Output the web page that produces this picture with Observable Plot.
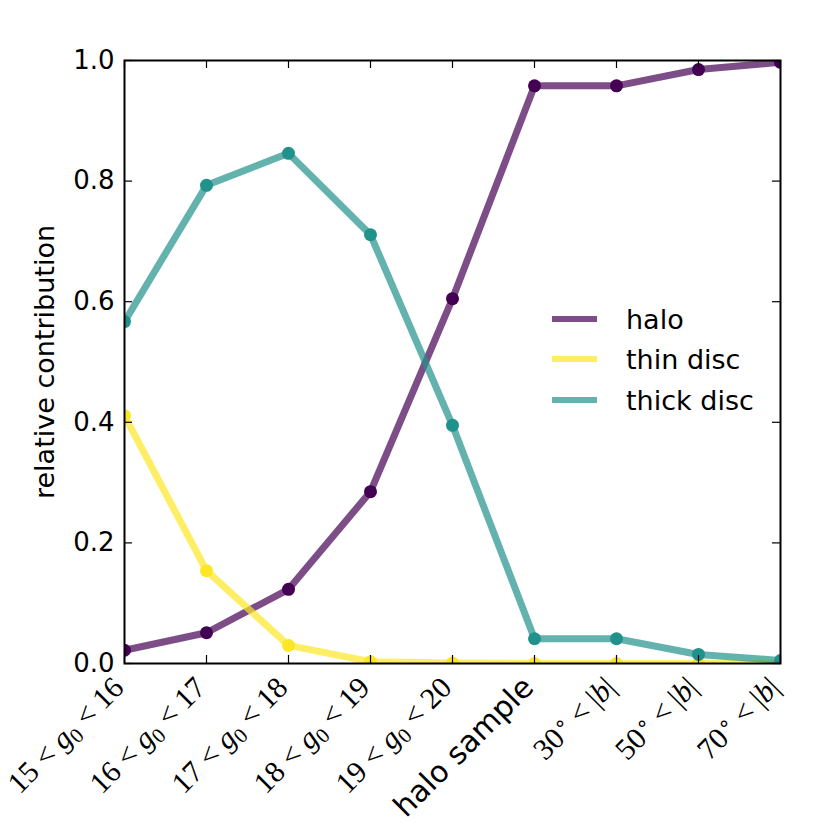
<!DOCTYPE html>
<html><head><meta charset="utf-8">
<script src="https://cdn.jsdelivr.net/npm/d3@7"></script>
<script src="https://cdn.jsdelivr.net/npm/@observablehq/plot@0.6"></script>
<style>
body{margin:0;background:#fff}
#wrap{position:relative;width:830px;height:830px;font-family:"DejaVu Sans",sans-serif}
.leg{position:absolute;left:552px;display:flex;align-items:center;font-size:27px;color:#000}
.leg span.sw{display:inline-block;width:45px;height:6px;margin-right:29px}
</style>
</head><body><div id="wrap"></div>
<script>
const categories = ["15<g0<16","16<g0<17","17<g0<18","18<g0<19","19<g0<20","halo sample","30<|b|","50<|b|","70<|b|"];
const halo      = [0.022, 0.051, 0.123, 0.285, 0.605, 0.958, 0.958, 0.985, 0.997];
const thinDisc  = [0.411, 0.154, 0.030, 0.003, 0.001, 0.000, 0.000, 0.000, 0.000];
const thickDisc = [0.567, 0.793, 0.846, 0.711, 0.395, 0.041, 0.041, 0.015, 0.005];
const yTicks = [0, 0.2, 0.4, 0.6, 0.8, 1.0];
const seriesNames = ["halo", "thin disc", "thick disc"];
const seriesColors = ["#440154", "#fde725", "#21918c"];
const seriesValues = [halo, thinDisc, thickDisc];

const rows = [];
seriesNames.forEach((s, i) => categories.forEach((c, j) => rows.push({series: s, cat: c, v: seriesValues[i][j]})));

const W = 830, H = 830, mL = 124, mR = 50, mT = 60, mB = 167;
const pw = W - mL - mR, ph = H - mT - mB;

const chart = Plot.plot({
  width: W, height: H,
  marginLeft: mL, marginRight: mR, marginTop: mT, marginBottom: mB,
  style: {fontFamily: "DejaVu Sans", background: "#fff", color: "#000"},
  x: {type: "point", domain: categories, padding: 0},
  y: {domain: [0, 1]},
  color: {domain: seriesNames, range: seriesColors},
  marks: [
    Plot.line(rows, {x: "cat", y: "v", z: "series", stroke: "series", strokeWidth: 7, strokeOpacity: 0.7, clip: "frame"}),
    Plot.dot(rows, {x: "cat", y: "v", fill: "series", r: 6.5, clip: "frame"}),
    Plot.tickX(categories, {x: d => d, insetTop: ph - 8, stroke: "#000", strokeWidth: 1.2}),
    Plot.tickX(categories, {x: d => d, insetBottom: ph - 8, stroke: "#000", strokeWidth: 1.2}),
    Plot.tickY(yTicks, {y: d => d, insetRight: pw - 8, stroke: "#000", strokeWidth: 1.2}),
    Plot.tickY(yTicks, {y: d => d, insetLeft: pw - 8, stroke: "#000", strokeWidth: 1.2}),
    Plot.frame({stroke: "#000", strokeWidth: 2}),
    Plot.axisY({ticks: yTicks, tickSize: 0, tickPadding: 10, tickFormat: d3.format(".1f"), fontSize: 26,
      label: "relative contribution", labelArrow: "none", labelAnchor: "center", labelOffset: 90}),
    Plot.axisX({tickSize: 0, tickPadding: 19, dx: -6, tickRotate: -45, fontSize: 30, label: null})
  ]
});
document.getElementById("wrap").appendChild(chart);

// y label: larger, no arrow
d3.select(chart).selectAll("g[aria-label='y-axis label'] text").each(function() {
  const t = d3.select(this);
  t.text(t.text().replace(/\s*[↑→]\s*/g, "")).style("font-size", "27px");
});

// render math-style tick labels
d3.select(chart).selectAll("g[aria-label='x-axis tick label'] text").each(function() {
  const t = d3.select(this);
  const s = t.text();
  let m;
  if ((m = s.match(/^(\d+)<g0<(\d+)$/))) {
    t.text(null).style("font-family", "'Liberation Serif', serif").style("font-size", "30px");
    t.append("tspan").text(m[1] + " < ");
    t.append("tspan").attr("font-style", "italic").text("g");
    t.append("tspan").attr("font-size", "21px").attr("dy", "0.25em").text("0");
    t.append("tspan").attr("dy", "-0.17em").text(" < " + m[2]);
  } else if ((m = s.match(/^(\d+)<\|b\|$/))) {
    t.text(null).style("font-family", "'Liberation Serif', serif").style("font-size", "30px");
    t.append("tspan").text(m[1]);
    t.append("tspan").attr("font-size", "21px").attr("dy", "-0.45em").text("∘");
    t.append("tspan").attr("dy", "0.31em").text(" < |");
    t.append("tspan").attr("font-style", "italic").text("b");
    t.append("tspan").text("|");
  }
});

// legend
const wrap = document.getElementById("wrap");
const legY = [319, 359, 400];
seriesNames.forEach((s, i) => {
  const d = document.createElement("div");
  d.className = "leg";
  d.style.top = (legY[i] - 16) + "px";
  d.style.height = "32px";
  const sw = document.createElement("span");
  sw.className = "sw";
  sw.style.background = seriesColors[i];
  sw.style.opacity = 0.7;
  d.appendChild(sw);
  d.appendChild(document.createTextNode(s));
  wrap.appendChild(d);
});
</script>
</body></html>
